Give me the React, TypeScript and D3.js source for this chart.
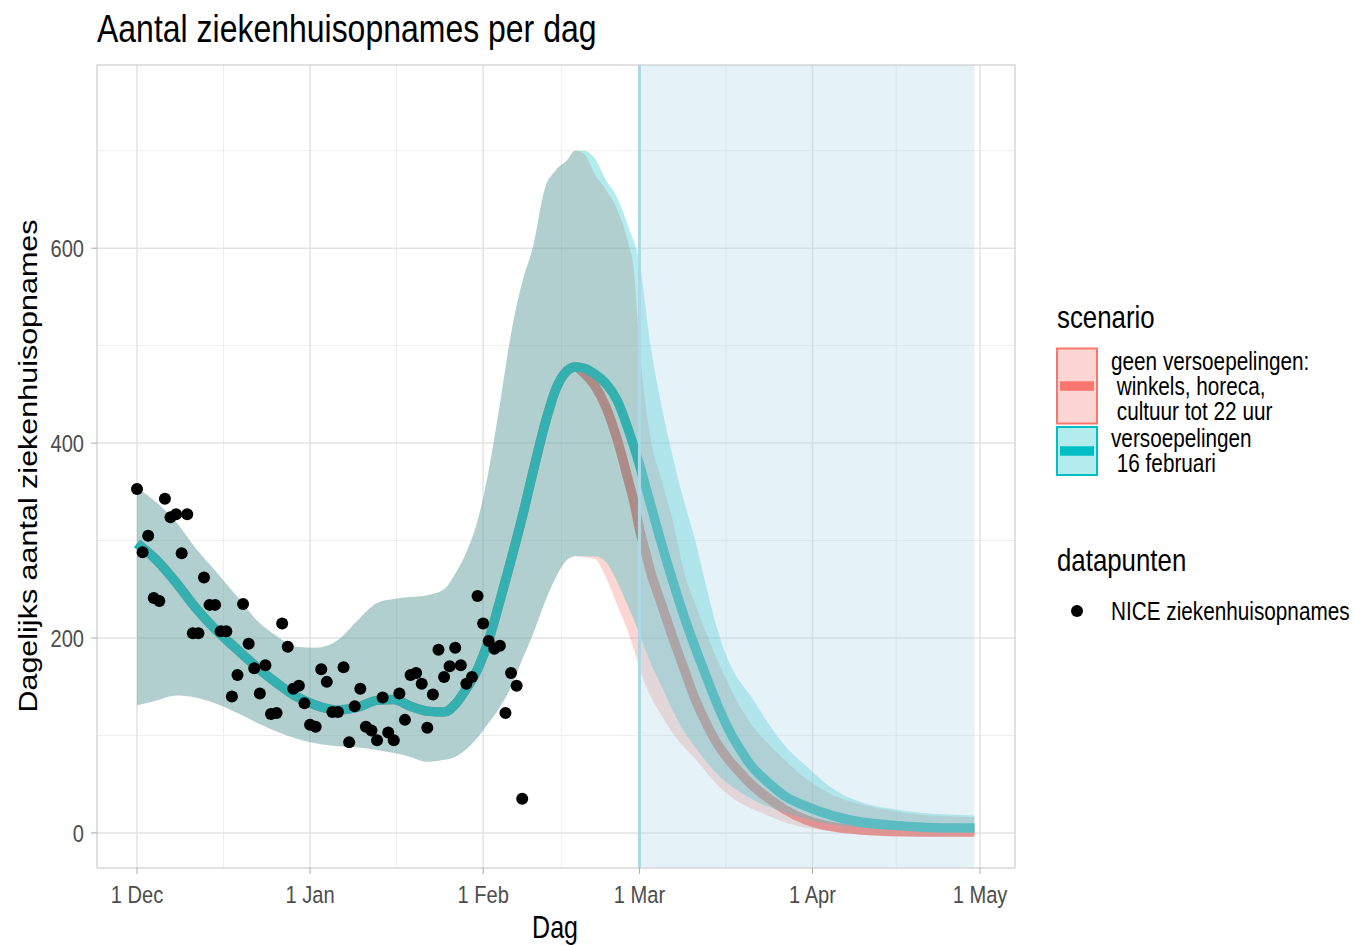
import * as d3 from 'd3';

// observed daily admissions, one per day starting 1 Dec 2020
const obsValues = [353, 288, 305, 241, 238, 343, 324, 327, 287, 327, 205, 205, 262, 234, 234, 207, 207, 140, 162, 235,
  194, 169, 143, 172, 122, 123, 215, 191, 148, 151, 133, 111, 109, 168, 155, 124, 124, 170, 93, 130,
  148, 109, 105, 95, 139, 103, 95, 143, 116, 162, 164, 153, 108, 142, 188, 160, 171, 190, 172, 153,
  160, 243, 215, 197, 189, 192, 123, 164, 151, 35];

// model output common to both scenarios (days since 1 Dec)
const sharedDays = [0, 3.5, 7, 10.5, 14, 18, 21.5, 25, 28.5, 32, 36, 39.5, 43, 46, 49, 52, 55, 57, 59, 61, 63, 65, 67, 69, 71, 73, 75, 77, 78.5];
const sharedMedian = [297, 280, 257, 231, 209, 188, 170, 154, 140, 131, 126, 129, 136, 137, 130, 125, 124, 132, 148, 168, 198, 238, 280, 324, 372, 418, 455, 474, 478];
const sharedUpper = [354, 339, 319, 292, 269, 242, 218, 202, 191, 190, 198, 218, 236, 240, 242, 244, 250, 266, 288, 320, 372, 440, 512, 565, 603, 660, 680, 690, 700];
const sharedLower = [131, 136, 141, 139, 133, 123, 113, 104, 97, 92, 89, 88, 85, 82, 78, 73, 75, 78, 86, 98, 113, 129, 150, 178, 205, 236, 262, 280, 284];

// versoepelingen 16 februari
const tealDays = [80, 82, 84, 86, 88, 90, 92, 94, 96, 98, 100, 102, 104, 106, 108, 110, 113, 116, 120, 125, 130, 135, 140, 145, 150];
const tealMedian = [477, 471, 461, 444, 414, 378, 337, 296, 258, 222, 190, 160, 131, 106, 86, 69, 52, 38, 27, 17, 11, 8, 6, 5, 5];
const tealUpper = [700, 692, 670, 652, 622, 585, 500, 437, 385, 340, 300, 252, 208, 176, 155, 140, 113, 90, 68, 44, 31, 25, 21, 19, 18];
const tealLower = [284, 284, 278, 258, 232, 204, 174, 150, 125, 104, 88, 73, 60, 50, 42, 35, 27, 21, 14, 8, 5, 3, 2, 1.5, 1];

// geen versoepelingen
const redDays = [80, 82, 84, 86, 88, 89, 90, 91, 92, 94, 96, 98, 100, 102, 104, 106, 108, 110, 113, 116, 120, 125, 130, 135, 140, 145, 150];
const redMedian = [472, 459, 437, 404, 362, 340, 312, 290, 268, 234, 200, 168, 137, 112, 91, 75, 62, 50, 36, 24, 13, 6, 3, 1.5, 1, 1, 1];
const redUpper = [697, 676, 660, 640, 605, 578, 500, 445, 405, 362, 320, 268, 235, 205, 177, 152, 130, 112, 92, 75, 55, 38, 29, 23, 19, 17, 16];
const redLower = [283, 281, 262, 234, 206, 188, 170, 153, 140, 120, 102, 88, 76, 62, 49, 39, 31, 25, 18, 11, 5, 2, 1, 0.5, 0, 0, 0];

const scenarioLabels = [['geen versoepelingen:', ' winkels, horeca,', ' cultuur tot 22 uur'], ['versoepelingen', ' 16 februari']];
const yTicks = [0, 200, 400, 600];
const yMinor = [100, 300, 500, 700];
const shadeFrom = 90; // 1 Mar
const shadeTo = 150;  // 30 Apr

const RED = '#F8766D';
const TEAL = '#00BFC4';
const FONT = "'Liberation Sans', Arial, sans-serif";
const SX = 0.82;

const BASE = Date.UTC(2020, 11, 1);
const toDate = (d: number) => new Date(BASE + d * 864e5);

type Row = { d: number; m: number; lo: number; hi: number };
const build = (days: number[], m: number[], lo: number[], hi: number[]): Row[] =>
  days.map((d, i) => ({ d, m: m[i], lo: lo[i], hi: hi[i] }));

const shared = build(sharedDays, sharedMedian, sharedLower, sharedUpper);
const tealRows = shared.concat(build(tealDays, tealMedian, tealLower, tealUpper));
const redRows = shared.concat(build(redDays, redMedian, redLower, redUpper));

function T({ x, y, size, anchor = 'start', fill = '#000', rot = false, children }: any) {
  return (
    <text
      transform={`translate(${x},${y}) scale(${SX},1)${rot ? ' rotate(-90)' : ''}`}
      fontSize={size}
      textAnchor={anchor}
      fill={fill}
      style={{ whiteSpace: 'pre' }}
    >
      {children}
    </text>
  );
}

export default function App() {
  const left = 97, right = 1015, top = 65, bottom = 868;

  const x = d3.scaleUtc().domain([toDate(-7.165), toDate(157.27)]).range([left, right]);
  const y = d3.scaleLinear().domain([-36, 788]).range([bottom, top]);

  const xMajor = x.ticks(d3.utcMonth.every(1) as any);
  const xMinor = xMajor.slice(1).map((t, i) => new Date((t.getTime() + xMajor[i].getTime()) / 2));
  const fmt = d3.utcFormat('%-d %b');

  const area = d3.area<Row>()
    .x(r => x(toDate(r.d)))
    .y0(r => y(r.lo))
    .y1(r => y(r.hi))
    .curve(d3.curveMonotoneX);
  const line = d3.line<Row>()
    .x(r => x(toDate(r.d)))
    .y(r => y(r.m))
    .curve(d3.curveMonotoneX);

  const lw = 9.5;

  return (
    <svg width={1355} height={945} style={{ position: 'absolute', left: 0, top: 0, background: '#fff' }} fontFamily={FONT}>
      <defs>
        <clipPath id="panel">
          <rect x={left} y={top} width={right - left} height={bottom - top} />
        </clipPath>
      </defs>

      <T x={97} y={42} size={39}>Aantal ziekenhuisopnames per dag</T>

      {/* grid */}
      <g>
        {xMinor.map((t, i) => (
          <line key={'xm' + i} x1={x(t)} x2={x(t)} y1={top} y2={bottom} stroke="#eeeeee" strokeWidth={1} />
        ))}
        {yMinor.map(v => (
          <line key={'ym' + v} x1={left} x2={right} y1={y(v)} y2={y(v)} stroke="#eeeeee" strokeWidth={1} />
        ))}
        {xMajor.map((t, i) => (
          <line key={'xM' + i} x1={x(t)} x2={x(t)} y1={top} y2={bottom} stroke="#e3e3e3" strokeWidth={1.5} />
        ))}
        {yTicks.map(v => (
          <line key={'yM' + v} x1={left} x2={right} y1={y(v)} y2={y(v)} stroke="#e3e3e3" strokeWidth={1.5} />
        ))}
      </g>

      <g clipPath="url(#panel)">
        <path d={line(redRows) || ''} fill="none" stroke={RED} strokeWidth={lw} />
        <path d={line(tealRows) || ''} fill="none" stroke={TEAL} strokeWidth={lw} />
        <path d={area(redRows) || ''} fill={RED} fillOpacity={0.3} />
        <path d={area(tealRows) || ''} fill={TEAL} fillOpacity={0.3} />
        {obsValues.map((v, i) => (
          <circle key={i} cx={x(toDate(i))} cy={y(v)} r={6} fill="#000" />
        ))}
        <rect
          x={x(toDate(shadeFrom))}
          y={top}
          width={x(toDate(shadeTo)) - x(toDate(shadeFrom))}
          height={bottom - top}
          fill="#ADD8E6"
          fillOpacity={0.32}
        />
        <line
          x1={x(toDate(shadeFrom))}
          x2={x(toDate(shadeFrom))}
          y1={top}
          y2={bottom}
          stroke="#ADD8E6"
          strokeWidth={3}
        />
      </g>

      <rect x={left} y={top} width={right - left} height={bottom - top} fill="none" stroke="#c4c4c4" strokeWidth={1} />

      {/* axes */}
      {xMajor.map((t, i) => (
        <g key={'xt' + i}>
          <line x1={x(t)} x2={x(t)} y1={bottom} y2={bottom + 6} stroke="#aaaaaa" />
          <T x={x(t)} y={903} size={24.5} anchor="middle" fill="#4d4d4d">{fmt(t)}</T>
        </g>
      ))}
      {yTicks.map(v => (
        <g key={'yt' + v}>
          <line x1={left - 6} x2={left} y1={y(v)} y2={y(v)} stroke="#aaaaaa" />
          <T x={84} y={y(v) + 8.8} size={24.5} anchor="end" fill="#4d4d4d">{v}</T>
        </g>
      ))}
      <T x={555} y={938} size={30.5} anchor="middle">Dag</T>
      <T x={37} y={466} size={30.5} anchor="middle" rot>Dagelijks aantal ziekenhuisopnames</T>

      {/* legend */}
      <T x={1057} y={328} size={31.5}>scenario</T>
      <rect x={1057} y={348.5} width={40} height={75} fill={RED} fillOpacity={0.3} stroke={RED} strokeWidth={2} />
      <line x1={1060} x2={1094} y1={386} y2={386} stroke={RED} strokeWidth={lw} />
      <rect x={1057} y={427} width={40} height={48} fill={TEAL} fillOpacity={0.3} stroke={TEAL} strokeWidth={2} />
      <line x1={1060} x2={1094} y1={451} y2={451} stroke={TEAL} strokeWidth={lw} />
      {scenarioLabels[0].map((s, i) => (
        <T key={'r' + i} x={1111} y={370 + i * 25} size={25.3}>{s}</T>
      ))}
      {scenarioLabels[1].map((s, i) => (
        <T key={'t' + i} x={1111} y={447 + i * 25} size={25.3}>{s}</T>
      ))}

      <T x={1057} y={571} size={31.5}>datapunten</T>
      <circle cx={1077} cy={611} r={6} fill="#000" />
      <T x={1111} y={620} size={25.3}>NICE ziekenhuisopnames</T>
    </svg>
  );
}
